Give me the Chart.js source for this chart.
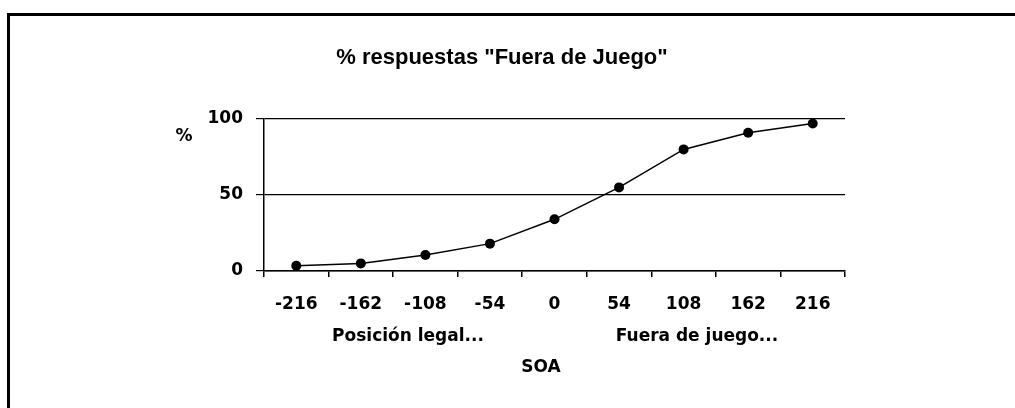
<!DOCTYPE html>
<html>
<head>
<meta charset="utf-8">
<script src="https://cdn.jsdelivr.net/npm/chart.js@4.4.1/dist/chart.umd.min.js"></script>
<style>
  html, body { margin: 0; padding: 0; background: #fff; overflow: hidden; }
  #wrap { position: relative; width: 1015px; height: 408px; }
  #frame { position: absolute; left: 7px; top: 13px; width: 1100px; height: 500px; border: 3px solid #000; box-sizing: border-box; }
  #chart { position: absolute; left: 0; top: 0; }
</style>
</head>
<body>
<div id="wrap">
  <div id="frame"></div>
  <canvas id="chart" width="1015" height="408"></canvas>
</div>
<script>
// % answers "offside" by SOA distance
const categories = ['-216', '-162', '-108', '-54', '0', '54', '108', '162', '216'];
const responses = [3.5, 5, 10.5, 18, 34, 55, 80, 91, 97];
const yTicks = [0, 50, 100];

const titleText = '% respuestas "Fuera de Juego"';
const yLabel = '%';
const leftNote = 'Posición legal...';
const rightNote = 'Fuera de juego...';
const xLabel = 'SOA';

const FONT = '"DejaVu Sans", Verdana, sans-serif';
const TITLE_FONT = '"Liberation Sans", Arial, sans-serif';

// extra texts: title, unrotated y label, notes under the axis
const textPlugin = {
  id: 'texts',
  afterDraw(chart) {
    const ctx = chart.ctx;
    ctx.save();
    ctx.fillStyle = '#000';
    ctx.textAlign = 'center';
    ctx.textBaseline = 'middle';
    ctx.font = 'bold 22px ' + TITLE_FONT;
    ctx.fillText(titleText, 502, 58);
    ctx.font = 'bold 17px ' + FONT;
    ctx.fillText(yLabel, 184, 137);
    ctx.fillText(leftNote, 408, 337);
    ctx.fillText(rightNote, 697, 337);
    ctx.fillText(xLabel, 541, 368);
    ctx.restore();
  }
};

new Chart(document.getElementById('chart'), {
  type: 'line',
  data: {
    labels: categories,
    datasets: [{
      data: responses,
      borderColor: '#000',
      borderWidth: 1.5,
      backgroundColor: '#000',
      pointRadius: 5,
      pointBorderWidth: 0,
      tension: 0,
      fill: false
    }]
  },
  options: {
    responsive: false,
    animation: false,
    layout: { padding: { top: 119, right: 170, left: 0, bottom: 0 } },
    plugins: { legend: { display: false }, tooltip: { enabled: false }, title: { display: false } },
    scales: {
      x: {
        type: 'category',
        offset: true,
        afterFit: s => { s.height = 137; },
        grid: { offset: true, drawOnChartArea: false, drawTicks: true, tickLength: 6, color: '#000', lineWidth: 1.5 },
        border: { display: true, color: '#000', width: 1.5 },
        ticks: { color: '#000', padding: 17, maxRotation: 0, font: { family: FONT, size: 17, weight: 'bold' } }
      },
      y: {
        min: 0, max: 100,
        afterFit: s => { s.width = 264; },
        afterBuildTicks: s => { s.ticks = yTicks.map(v => ({ value: v })); },
        grid: { color: '#000', lineWidth: 1.2, drawTicks: true, tickLength: 8 },
        border: { display: true, color: '#000', width: 1.5 },
        ticks: { color: '#000', padding: 13, font: { family: FONT, size: 17, weight: 'bold' } }
      }
    }
  },
  plugins: [textPlugin]
});
</script>
</body>
</html>
